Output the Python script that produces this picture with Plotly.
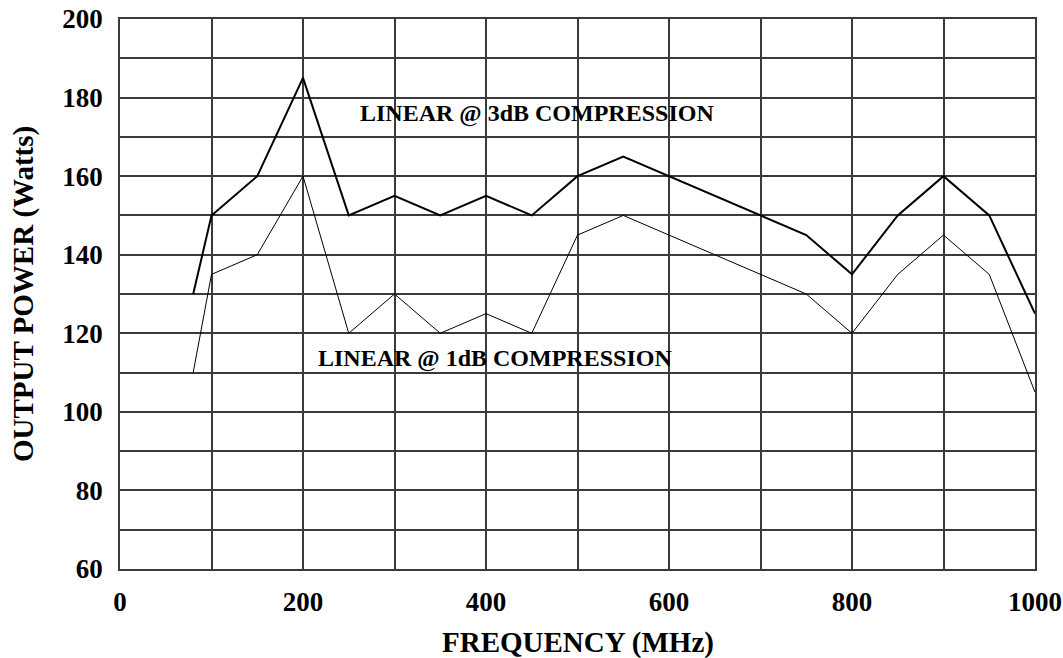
import plotly.graph_objects as go

freq_3db = [80, 100, 150, 200, 250, 300, 350, 400, 450, 500, 550, 750, 800, 850, 900, 950, 1000]
power_3db = [130, 150, 160, 185, 150, 155, 150, 155, 150, 160, 165, 145, 135, 150, 160, 150, 125]

freq_1db = [80, 100, 150, 200, 250, 300, 350, 400, 450, 500, 550, 750, 800, 850, 900, 950, 1000]
power_1db = [110, 135, 140, 160, 120, 130, 120, 125, 120, 145, 150, 130, 120, 135, 145, 135, 105]

x_ticks = [0, 200, 400, 600, 800, 1000]
y_ticks = [60, 80, 100, 120, 140, 160, 180, 200]

label_3db = "LINEAR @ 3dB COMPRESSION"
label_1db = "LINEAR @ 1dB COMPRESSION"
x_title = "FREQUENCY (MHz)"
y_title = "OUTPUT POWER (Watts)"

FONT = "Liberation Serif, Times New Roman, serif"
GRID = "#3a3a3a"

fig = go.Figure()
fig.add_trace(go.Scatter(x=freq_3db, y=power_3db, mode="lines",
                         line=dict(color="black", width=2), showlegend=False))
fig.add_trace(go.Scatter(x=freq_1db, y=power_1db, mode="lines",
                         line=dict(color="black", width=1), showlegend=False))

fig.add_annotation(x=456, y=176, text="<b>" + label_3db + "</b>", showarrow=False,
                   font=dict(family=FONT, size=24, color="black"))
fig.add_annotation(x=410, y=113.7, text="<b>" + label_1db + "</b>", showarrow=False,
                   font=dict(family=FONT, size=24, color="black"))

# axis titles
fig.add_annotation(xref="paper", yref="paper", x=0.5, y=0, yanchor="middle", yshift=-73,
                   text="<b>" + x_title + "</b>", showarrow=False,
                   font=dict(family=FONT, size=29, color="black"))
fig.add_annotation(xref="paper", yref="paper", x=0, y=0.5, xanchor="center", xshift=-97,
                   textangle=-90, text="<b>" + y_title + "</b>", showarrow=False,
                   font=dict(family=FONT, size=29, color="black"))

fig.update_layout(
    width=1063, height=658,
    margin=dict(l=120, r=28, t=19, b=89),
    paper_bgcolor="white", plot_bgcolor="white",
    font=dict(family=FONT, color="black"),
)
fig.update_xaxes(
    range=[0, 1000], tickvals=x_ticks, ticktext=[str(v) for v in x_ticks],
    automargin=False,
    showgrid=True, gridcolor=GRID, gridwidth=1.5,
    showline=True, linecolor=GRID, linewidth=1.5, mirror=True,
    zeroline=False, ticks="", ticklabelstandoff=8,
    tickfont=dict(family=FONT, size=27, color="black", weight="bold"),
    minor=dict(tickvals=[100, 300, 500, 700, 900], showgrid=True, gridcolor=GRID, gridwidth=1.5),
)
fig.update_yaxes(
    range=[60, 200], tickvals=y_ticks, ticktext=[str(v) for v in y_ticks],
    automargin=False,
    showgrid=True, gridcolor=GRID, gridwidth=1.5,
    showline=True, linecolor=GRID, linewidth=1.5, mirror=True,
    zeroline=False, ticks="", ticklabelstandoff=10,
    tickfont=dict(family=FONT, size=27, color="black", weight="bold"),
    minor=dict(tickvals=[70, 90, 110, 130, 150, 170, 190], showgrid=True, gridcolor=GRID, gridwidth=1.5),
)

fig.write_html("out.html", config={"displayModeBar": False},
               post_script="document.body.style.margin='0';document.body.style.overflow='hidden';")
